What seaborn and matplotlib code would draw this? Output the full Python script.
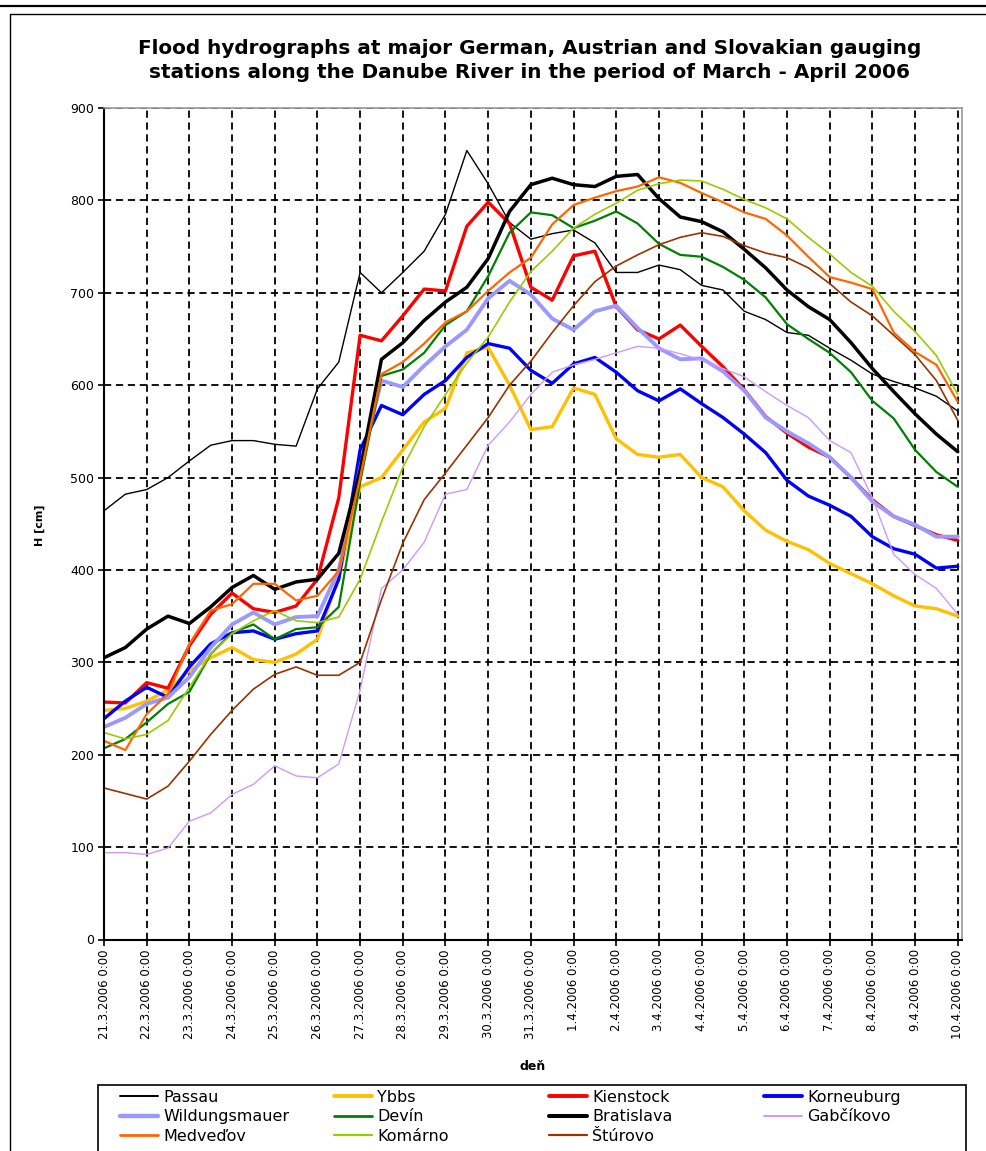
import numpy as np
import pandas as pd
import matplotlib
matplotlib.use("Agg")
import matplotlib.pyplot as plt
import seaborn as sns
from matplotlib.lines import Line2D
from matplotlib.patches import Rectangle

# ---------------- data (12-hour sampling) ----------------
hours = list(range(0, 481, 12))   # hours since 21.3.2006 0:00

tick_labels = ["21.3.2006 0:00", "22.3.2006 0:00", "23.3.2006 0:00", "24.3.2006 0:00",
               "25.3.2006 0:00", "26.3.2006 0:00", "27.3.2006 0:00", "28.3.2006 0:00",
               "29.3.2006 0:00", "30.3.2006 0:00", "31.3.2006 0:00", "1.4.2006 0:00",
               "2.4.2006 0:00", "3.4.2006 0:00", "4.4.2006 0:00", "5.4.2006 0:00",
               "6.4.2006 0:00", "7.4.2006 0:00", "8.4.2006 0:00", "9.4.2006 0:00",
               "10.4.2006 0:00"]

passau = [464, 482, 487, 500, 518, 535, 540, 540, 536, 534, 596, 625, 722, 700, 722, 745, 785, 854, 818, 776,
          758, 764, 768, 754, 722, 722, 730, 725, 708, 703, 680, 671, 657, 654, 640, 627, 612, 604, 597, 588, 572]
ybbs = [248, 250, 258, 270, 291, 305, 316, 303, 300, 309, 325, 392, 490, 500, 530, 560, 575, 635, 641, 600,
        552, 555, 597, 590, 542, 525, 522, 525, 500, 490, 464, 443, 431, 422, 407, 396, 385, 372, 361, 358, 350]
kienstock = [257, 256, 278, 272, 318, 352, 375, 358, 354, 361, 390, 478, 654, 648, 675, 704, 702, 772, 798, 775,
             706, 692, 740, 745, 685, 660, 650, 665, 642, 620, 595, 566, 548, 533, 522, 500, 476, 458, 448, 438, 432]
korneuburg = [239, 258, 273, 262, 295, 320, 332, 334, 325, 331, 334, 390, 530, 578, 568, 590, 605, 630, 645, 640,
              616, 602, 623, 630, 614, 594, 583, 596, 580, 565, 547, 527, 497, 480, 470, 458, 436, 423, 417, 402, 404]
wildungsmauer = [230, 240, 255, 262, 284, 316, 341, 354, 341, 349, 350, 400, 510, 605, 598, 621, 642, 660, 694, 713,
                 698, 672, 660, 680, 686, 662, 640, 628, 629, 615, 594, 565, 550, 537, 522, 500, 474, 458, 449, 436, 436]
devin = [207, 217, 235, 255, 268, 309, 332, 341, 325, 336, 338, 360, 495, 610, 617, 635, 665, 680, 718, 765,
         787, 784, 770, 778, 788, 775, 753, 741, 739, 728, 714, 695, 666, 650, 635, 614, 583, 564, 530, 506, 490]
bratislava = [305, 316, 336, 350, 342, 360, 381, 394, 379, 387, 390, 418, 508, 628, 646, 670, 690, 706, 737, 788,
              817, 824, 817, 815, 826, 828, 802, 782, 777, 766, 747, 727, 703, 685, 671, 646, 618, 593, 569, 547, 528]
gabcikovo = [94, 94, 92, 99, 128, 137, 157, 168, 188, 177, 175, 190, 270, 380, 400, 430, 482, 487, 535, 560,
             590, 614, 622, 628, 635, 642, 640, 634, 627, 618, 609, 593, 578, 565, 540, 527, 478, 417, 395, 380, 352]
medvedov = [215, 205, 244, 266, 320, 356, 363, 385, 385, 367, 372, 399, 500, 612, 625, 645, 668, 680, 702, 722,
            738, 774, 795, 803, 810, 815, 825, 819, 808, 798, 787, 780, 762, 739, 717, 711, 704, 657, 636, 622, 582]
komarno = [224, 217, 222, 237, 273, 309, 331, 345, 356, 345, 343, 349, 390, 452, 511, 555, 590, 624, 652, 690,
           723, 745, 770, 785, 797, 811, 818, 822, 821, 812, 801, 792, 780, 760, 742, 722, 707, 680, 658, 632, 590]
sturovo = [164, 158, 152, 166, 193, 222, 248, 271, 287, 295, 286, 286, 300, 368, 429, 476, 505, 535, 565, 600,
           626, 657, 686, 712, 729, 741, 752, 760, 765, 761, 751, 743, 738, 727, 710, 690, 675, 654, 633, 605, 562]

stations = ["Passau", "Ybbs", "Kienstock", "Korneuburg", "Wildungsmauer", "Devín",
            "Bratislava", "Gabčíkovo", "Medveďov", "Komárno", "Štúrovo"]
series = [passau, ybbs, kienstock, korneuburg, wildungsmauer, devin,
          bratislava, gabcikovo, medvedov, komarno, sturovo]
colors = ["#000000", "#FFC000", "#FF0000", "#0000FF", "#9999FF", "#008000",
          "#000000", "#CC99FF", "#FF6600", "#99CC00", "#993300"]
widths = [1.0, 2.4, 2.4, 2.4, 2.8, 1.6, 2.5, 1.0, 1.6, 1.2, 1.2]

# ---------------- figure ----------------
sns.set_style("white")
plt.rcParams["font.family"] = ["DejaVu Sans"]
plt.rcParams["text.color"] = "black"
plt.rcParams["axes.labelcolor"] = "black"
plt.rcParams["xtick.color"] = "black"
plt.rcParams["ytick.color"] = "black"

W, H = 987, 1151
fig = plt.figure(figsize=(W / 100, H / 100), dpi=100)
ax = fig.add_axes([104 / W, 1 - 939.5 / H, (962 - 104) / W, (939.5 - 108) / H])

days = np.array(hours) / 24.0
handles = {}
for name, vals, c, lw in zip(stations, series, colors, widths):
    sns.lineplot(x=days, y=vals, ax=ax, color=c, linewidth=lw, legend=False)
    handles[name] = ax.lines[-1]

ax.set_xlim(0, 20.1)
ax.set_ylim(0, 900)
ax.set_xticks(range(21))
ax.set_xticklabels(tick_labels, rotation=90, fontsize=8.5, color="black")
ax.set_yticks(range(0, 901, 100))
ax.set_yticklabels([str(v) for v in range(0, 901, 100)], fontsize=9, color="black")
ax.set_xlabel("")
ax.set_ylabel("")

ax.set_axisbelow(True)
ax.grid(True, color="black", linestyle=(0, (4, 2.6)), linewidth=1.3)
for s in ["left", "bottom"]:
    ax.spines[s].set_color("black")
    ax.spines[s].set_linewidth(1.5)
for s in ["top", "right"]:
    ax.spines[s].set_color("#999999")
    ax.spines[s].set_linewidth(1.2)
ax.tick_params(axis="both", direction="out", length=4, width=1.2, color="black",
               bottom=True, left=True, top=False, right=False, pad=3)

# titles and axis labels
fig.text(530 / W, 1 - 54 / H, "Flood hydrographs at major German, Austrian and Slovakian gauging",
         ha="center", va="baseline", fontsize=14.4, fontweight="bold", color="black")
fig.text(530 / W, 1 - 78 / H, "stations along the Danube River in the period of March - April 2006",
         ha="center", va="baseline", fontsize=14.4, fontweight="bold", color="black")
fig.text(40 / W, 1 - 525 / H, "H [cm]", rotation=90, ha="center", va="center",
         fontsize=8, fontweight="bold", color="black")
fig.text(533 / W, 1 - 1067 / H, "deň", ha="center", va="center", fontsize=9, fontweight="bold",
         color="black")

# outer frame lines
fig.add_artist(Line2D([0, 1], [1 - 6 / H, 1 - 6 / H], transform=fig.transFigure, color="black", lw=1.6))
fig.add_artist(Line2D([10 / W, 1], [1 - 14 / H, 1 - 14 / H], transform=fig.transFigure, color="black", lw=1.0))
fig.add_artist(Line2D([10 / W, 10 / W], [0, 1 - 14 / H], transform=fig.transFigure, color="black", lw=1.0))

# legend: 4 equally spaced columns like the reference, inside one frame
legend_columns = [["Passau", "Wildungsmauer", "Medveďov"],
                  ["Ybbs", "Devín", "Komárno"],
                  ["Kienstock", "Bratislava", "Štúrovo"],
                  ["Korneuburg", "Gabčíkovo"]]
col_x = [120, 334, 549, 764]
for names, x0 in zip(legend_columns, col_x):
    hs = [Line2D([0], [0], color=handles[n].get_color(), lw=handles[n].get_linewidth() + 0.4)
          for n in names]
    lg = fig.legend(hs, names, loc="upper left", bbox_to_anchor=(x0 / W, 1 - 1090 / H),
                    bbox_transform=fig.transFigure, ncol=1, fontsize=11.5,
                    handlelength=2.4, handletextpad=0.3, labelspacing=0.27,
                    borderpad=0, borderaxespad=0, frameon=False)
    for t in lg.get_texts():
        t.set_color("black")
fig.add_artist(Rectangle((98 / W, -0.01), (966 - 98) / W, 0.01 + (1151 - 1085) / H,
                         transform=fig.transFigure, fill=False, edgecolor="black", lw=1.2))

fig.savefig("out.png", dpi=100)
